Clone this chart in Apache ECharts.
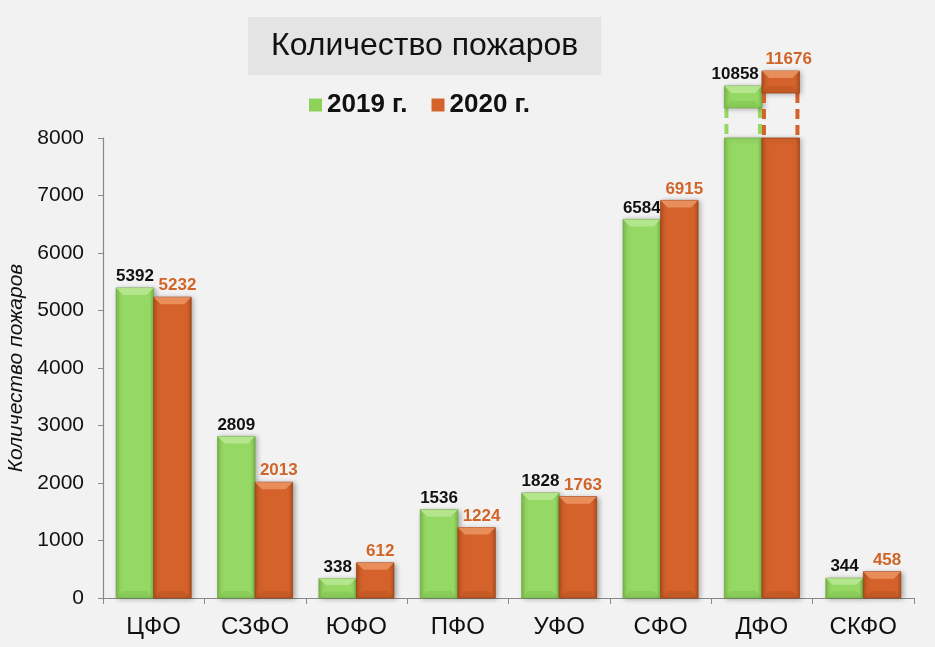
<!DOCTYPE html>
<html><head><meta charset="utf-8">
<script src="https://cdn.jsdelivr.net/npm/echarts@6/dist/echarts.min.js"></script>
<style>html,body{margin:0;padding:0;background:#f2f2f2}#c{width:935px;height:647px}</style>
</head><body><div id="c"></div>
<script>
const categories = ['ЦФО','СЗФО','ЮФО','ПФО','УФО','СФО','ДФО','СКФО'];
const values2019 = [5392, 2809, 338, 1536, 1828, 6584, 10858, 344];
const values2020 = [5232, 2013, 612, 1224, 1763, 6915, 11676, 458];
const seriesNames = ['2019 г.', '2020 г.'];
const yMax = 8000, yInterval = 1000;
const FONT = '"Liberation Sans", Arial, sans-serif';

const palettes = [
  {body:'#96d864', light:'#b8e892', dark:'#78bb48', edge:'#6fa843', label:'#111111', legend:'#8ed25a'},
  {body:'#d4622a', light:'#eb9460', dark:'#b24f1d', edge:'#9c4418', label:'#d0652a', legend:'#d4622a'}
];

function barShapes(x0, w, yt, yb, p, flatTop) {
  const els = [];
  const h = yb - yt;
  els.push({type:'rect', shape:{x:x0, y:yt, width:w, height:h},
    style:{fill:{type:'linear', x:0, y:0, x2:1, y2:0, colorStops:[
      {offset:0, color:p.dark},{offset:0.12, color:p.body},{offset:0.88, color:p.body},{offset:1, color:p.dark}]},
      stroke:p.edge, lineWidth:0.8, shadowBlur:5, shadowOffsetX:2, shadowOffsetY:1, shadowColor:'rgba(0,0,0,0.3)'}});
  const b = Math.min(7, h/3), s = Math.min(7, w/4);
  if (!flatTop) {
    els.push({type:'polygon', shape:{points:[[x0,yt],[x0+w,yt],[x0+w-s,yt+b],[x0+s,yt+b]]},
      style:{fill:p.light, opacity:0.9}});
  }
  els.push({type:'polygon', shape:{points:[[x0,yb],[x0+w,yb],[x0+w-s,yb-b],[x0+s,yb-b]]},
    style:{fill:p.dark, opacity:0.4}});
  return els;
}

function makeRender(sIdx) {
  const p = palettes[sIdx];
  return function (params, api) {
    const i = api.value(0), v = api.value(1);
    const base = api.coord([i, 0]);
    const band = api.size([1, 0])[0];
    const w = band * 0.37;
    const cx = base[0];
    const x0 = sIdx === 0 ? cx - w : cx;
    const y0 = base[1];
    const yTop = api.coord([i, Math.min(v, yMax)])[1];
    let children = [];
    let labelY = yTop - 3;
    let dx = sIdx === 1 ? 5 : 0;
    if (v > yMax) {
      const perUnit = (y0 - yTop) / yMax;
      const capTop = yTop - (v - yMax) * perUnit * 0.317;
      const capBottom = capTop + 22;
      children = children.concat(barShapes(x0, w, yTop, y0, p, true));
      [x0 + 2, x0 + w - 2].forEach(function (lx) {
        children.push({type:'line', shape:{x1:lx, y1:capBottom, x2:lx, y2:yTop},
          style:{stroke:p.body, lineWidth:4, lineDash:[10,6]}});
      });
      children = children.concat(barShapes(x0, w, capTop, capBottom, p, false));
      labelY = capTop - 3;
      dx = sIdx === 1 ? 8 : -8;
    } else {
      children = children.concat(barShapes(x0, w, yTop, y0, p, false));
    }
    children.push({type:'text', style:{text:String(v), x:x0 + w/2 + dx, y:labelY,
      align:'center', verticalAlign:'bottom', font:'bold 17px ' + FONT, fill:p.label}});
    return {type:'group', children:children};
  };
}

const chart = echarts.init(document.getElementById('c'));
chart.setOption({
  backgroundColor:'#f2f2f2',
  animation:false,
  title:{text:'Количество пожаров', left:248, top:17, backgroundColor:'#e4e4e4',
    padding:[13, 23, 13, 23],
    textStyle:{fontFamily:FONT, fontSize:32, fontWeight:'normal', color:'#111'}},
  legend:{data:seriesNames, left:304, top:87, icon:'rect', itemWidth:13, itemHeight:13, itemGap:24,
    textStyle:{fontFamily:FONT, fontSize:26, fontWeight:'bold', color:'#111'}},
  grid:{left:103, top:138, right:21, bottom:49, containLabel:false, outerBoundsMode:'none'},
  xAxis:{type:'category', data:categories,
    axisLine:{lineStyle:{color:'#888', width:1.2}},
    axisTick:{show:true, length:6, lineStyle:{color:'#888'}},
    axisLabel:{fontFamily:FONT, fontSize:24, color:'#111', margin:17}},
  yAxis:{type:'value', min:0, max:yMax, interval:yInterval,
    name:'Количество пожаров', nameLocation:'middle', nameGap:73,
    nameTextStyle:{fontFamily:FONT, fontSize:21, fontStyle:'italic', color:'#111'},
    axisLine:{show:true, lineStyle:{color:'#888', width:1.2}},
    axisTick:{show:true, length:5, lineStyle:{color:'#888'}},
    splitLine:{show:false},
    axisLabel:{fontFamily:FONT, fontSize:21, color:'#111', margin:19,
      formatter:function (v) { return String(v); }}},
  series:[
    {name:seriesNames[0], type:'custom', clip:false, itemStyle:{color:palettes[0].legend},
      renderItem:makeRender(0), encode:{x:0, y:1},
      data:values2019.map(function (v, i) { return [i, v]; })},
    {name:seriesNames[1], type:'custom', clip:false, itemStyle:{color:palettes[1].legend},
      renderItem:makeRender(1), encode:{x:0, y:1},
      data:values2020.map(function (v, i) { return [i, v]; })}
  ]
});
</script></body></html>
